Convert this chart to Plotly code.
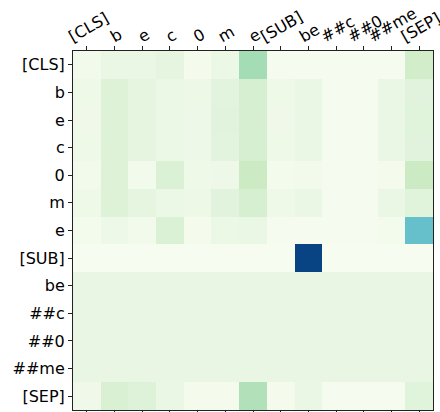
import plotly.graph_objects as go

# Token labels (query rows / key columns)
tokens = ["[CLS]", "b", "e", "c", "0", "m", "e", "[SUB]", "be", "##c", "##0", "##me", "[SEP]"]

# Attention weights, one row per query token
row_cls = [0.030, 0.070, 0.065, 0.100, 0.015, 0.060, 0.385, 0.010, 0.010, 0.010, 0.010, 0.010, 0.220]
row_b = [0.045, 0.140, 0.100, 0.060, 0.055, 0.110, 0.190, 0.045, 0.070, 0.010, 0.010, 0.070, 0.120]
row_e = [0.040, 0.140, 0.100, 0.060, 0.050, 0.120, 0.190, 0.040, 0.070, 0.010, 0.010, 0.070, 0.125]
row_c = [0.045, 0.140, 0.100, 0.060, 0.050, 0.110, 0.190, 0.045, 0.070, 0.010, 0.010, 0.070, 0.120]
row_0 = [0.030, 0.140, 0.025, 0.160, 0.045, 0.050, 0.250, 0.020, 0.025, 0.012, 0.012, 0.015, 0.250]
row_m = [0.045, 0.140, 0.100, 0.060, 0.055, 0.120, 0.190, 0.045, 0.070, 0.010, 0.010, 0.070, 0.125]
row_e2 = [0.020, 0.050, 0.030, 0.160, 0.015, 0.060, 0.065, 0.010, 0.012, 0.008, 0.008, 0.020, 0.560]
row_sub = [0.006, 0.006, 0.006, 0.006, 0.006, 0.006, 0.006, 0.006, 0.990, 0.006, 0.006, 0.006, 0.006]
row_be = [0.0769] * 13
row_hc = [0.0769] * 13
row_h0 = [0.0769] * 13
row_hme = [0.0769] * 13
row_sep = [0.040, 0.170, 0.135, 0.070, 0.015, 0.015, 0.340, 0.015, 0.065, 0.010, 0.010, 0.010, 0.125]

weights = [row_cls, row_b, row_e, row_c, row_0, row_m, row_e2, row_sub,
           row_be, row_hc, row_h0, row_hme, row_sep]

idx = list(range(len(tokens)))
FONT_SIZE = 16
font = dict(family="DejaVu Sans", size=FONT_SIZE, color="black")
LABEL_ANGLE = 30  # degrees, counter-clockwise
RANGE = [-0.5, len(tokens) - 0.5]

WIDTH, HEIGHT = 440, 412
MARGIN = dict(l=73, r=7, t=51, b=2)
CELL_PX = (WIDTH - MARGIN["l"] - MARGIN["r"]) / len(tokens)

# DejaVu Sans advance widths (em) for the glyphs used in the labels
ADVANCE = {"[": 0.390, "]": 0.390, "C": 0.698, "L": 0.557, "S": 0.635, "U": 0.732,
           "B": 0.686, "E": 0.632, "P": 0.603, "#": 0.838, "b": 0.635, "e": 0.615,
           "c": 0.550, "0": 0.636, "m": 0.974}


def centre_shift(i, label):
    """Shift that centres a start-anchored rotated label on its tick,
    pulled back just enough to stay inside the figure."""
    run = sum(ADVANCE.get(ch, 0.6) for ch in label) * FONT_SIZE * 0.866
    shift = -0.5 * run
    tick_px = MARGIN["l"] + (i + 0.5) * CELL_PX
    overflow = tick_px + shift + run - (WIDTH - 2)
    if overflow > 0:
        shift -= overflow
    return round(shift)


fig = go.Figure(go.Heatmap(
    z=weights, x=idx, y=idx,
    colorscale="GnBu", zmin=0, zmax=1, showscale=False,
))

# Main x axis carries the tick marks (top and mirrored to the bottom)
fig.update_xaxes(
    side="top", range=RANGE, tickvals=idx, showticklabels=False,
    ticks="outside", ticklen=4, tickwidth=1, tickcolor="#222",
    showline=True, linecolor="#222", linewidth=1, mirror="ticks",
    showgrid=False, zeroline=False, automargin=False,
)
fig.update_yaxes(
    range=RANGE[::-1], tickvals=idx, ticktext=tokens,
    ticks="outside", ticklen=4, tickwidth=1, tickcolor="#222",
    showline=True, linecolor="#222", linewidth=1, mirror=True,
    showgrid=False, zeroline=False, tickfont=font, automargin=False,
)

# One overlaid top axis per column label so each rotated label can be
# centred on its own tick
extra_axes = {}
for i, label in enumerate(tokens):
    ax_id = i + 2
    fig.add_trace(go.Scatter(x=[], y=[], xaxis=f"x{ax_id}", yaxis="y",
                             showlegend=False, hoverinfo="skip"))
    extra_axes[f"xaxis{ax_id}"] = dict(
        overlaying="x", anchor="y", side="top", range=RANGE,
        tickvals=[i], ticktext=[label], tickangle=-LABEL_ANGLE,
        tickfont=font, ticks="", ticklen=4,
        ticklabelshift=centre_shift(i, label), ticklabelstandoff=3,
        ticklabeloverflow="allow", automargin=False,
        showline=False, showgrid=False, zeroline=False, fixedrange=True,
    )

fig.update_layout(
    width=WIDTH, height=HEIGHT,
    margin=MARGIN,
    paper_bgcolor="white", plot_bgcolor="white",
    font=font,
    **extra_axes,
)

fig.write_html("out.html")
